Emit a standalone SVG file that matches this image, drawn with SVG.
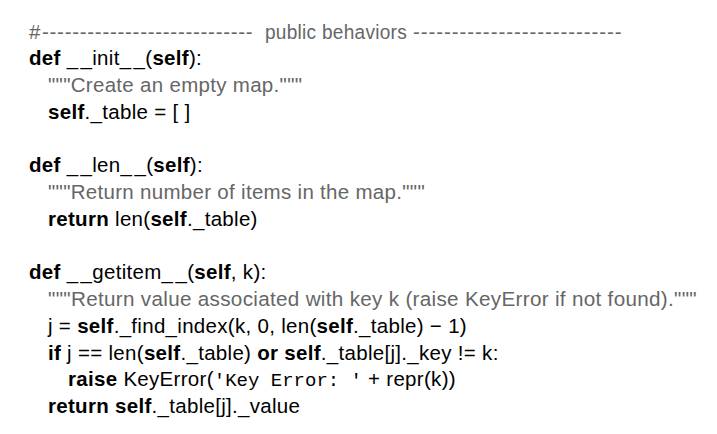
<svg xmlns="http://www.w3.org/2000/svg" width="717" height="434" viewBox="0 0 717 434">
<style>
text { font-family: "Liberation Sans", Arial, sans-serif; font-size: 20.5px; fill: #000; letter-spacing: 0.3px; white-space: pre; }
.g { fill: #666666; }
.k { font-weight: bold; }
.u { letter-spacing: 2.5px; }
.m { font-family: "Liberation Mono", "Courier New", monospace; font-size: 19px; letter-spacing: 0; }
</style>
<rect width="717" height="434" fill="#fff"/>
<g id="header">
<text class="g" x="29" y="38.5">#</text>
<text class="g" x="42" y="38.5" textLength="211" lengthAdjust="spacing">----------------------------</text>
<text class="g" x="265" y="38.5" textLength="142" lengthAdjust="spacingAndGlyphs">public behaviors</text>
<text class="g" x="413" y="38.5" textLength="209" lengthAdjust="spacing">---------------------------</text>
</g>
<g id="init">
<text x="29" y="65.25"><tspan class="k">def</tspan> <tspan class="u">_</tspan>_init<tspan class="u">_</tspan>_(<tspan class="k">self</tspan>):</text>
<text class="g" x="48" y="92">"""Create an empty map."""</text>
<text x="48" y="118.75"><tspan class="k">self</tspan>._table = [ ]</text>
</g>
<g id="len">
<text x="29" y="172.25"><tspan class="k">def</tspan> <tspan class="u">_</tspan>_len<tspan class="u">_</tspan>_(<tspan class="k">self</tspan>):</text>
<text class="g" x="48" y="199">"""Return number of items in the map."""</text>
<text x="48" y="225.75"><tspan class="k">return</tspan> len(<tspan class="k">self</tspan>._table)</text>
</g>
<g id="getitem">
<text x="29" y="279.25"><tspan class="k">def</tspan> <tspan class="u">_</tspan>_getitem<tspan class="u">_</tspan>_(<tspan class="k">self</tspan>, k):</text>
<text class="g" x="48" y="306" textLength="649" lengthAdjust="spacingAndGlyphs">"""Return value associated with key k (raise KeyError if not found)."""</text>
<text x="48" y="332.75">j = <tspan class="k">self</tspan>._find_index(k, 0, len(<tspan class="k">self</tspan>._table) − 1)</text>
<text x="48" y="359.5"><tspan class="k">if</tspan> j == len(<tspan class="k">self</tspan>._table) <tspan class="k">or</tspan> <tspan class="k">self</tspan>._table[j]._key != k:</text>
<text x="68" y="386.25"><tspan class="k">raise</tspan> KeyError(<tspan class="m">'Key Error: '</tspan> + repr(k))</text>
<text x="48" y="413"><tspan class="k">return</tspan> <tspan class="k">self</tspan>._table[j]._value</text>
</g>
</svg>
